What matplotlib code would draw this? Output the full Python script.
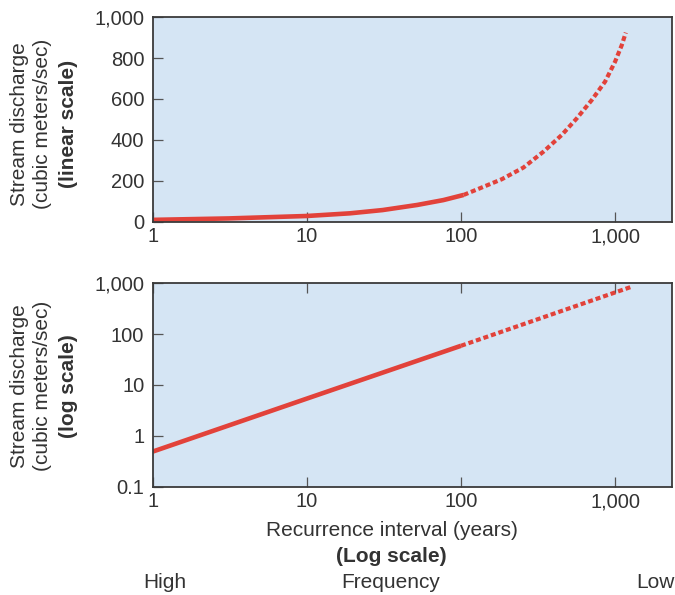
import matplotlib
matplotlib.use("Agg")
import matplotlib.pyplot as plt

plt.rcParams['font.family'] = ['Liberation Sans', 'DejaVu Sans']

# ---- data ----
top_solid_x = [1, 3.1, 10, 19, 31, 52, 77, 104]
top_solid_y = [8, 15, 27, 40, 56, 81, 105, 130]
top_dash_x = [104, 133, 184, 254, 343, 451, 564, 706, 861, 1000, 1105, 1173]
top_dash_y = [130, 163, 207, 264, 342, 424, 505, 595, 685, 783, 864, 925]

bot_solid_x = [1, 10, 100]
bot_solid_y = [0.49, 5.4, 59]
bot_dash_x = [100, 1300]
bot_dash_y = [59, 870]

x_ticks = [1, 10, 100, 1000]
x_tick_labels = ["1", "10", "100", "1,000"]
top_y_ticks = [0, 200, 400, 600, 800, 1000]
top_y_tick_labels = ["0", "200", "400", "600", "800", "1,000"]
bot_y_ticks = [0.1, 1, 10, 100, 1000]
bot_y_tick_labels = ["0.1", "1", "10", "100", "1,000"]

RED = "#E2423A"
BG = "#D5E5F4"
TXT = "#333333"
SPINE = "#3a3a3a"
FS = 14.5
FSL = 15

W, H = 675, 595
fig = plt.figure(figsize=(W / 100, H / 100), dpi=100)

def px_axes(l, t, r, b):
    return fig.add_axes([l / W, 1 - b / H, (r - l) / W, (b - t) / H])

ax1 = px_axes(152.7, 17.3, 672.3, 221.5)
ax2 = px_axes(152.7, 283.3, 672.3, 486.7)

for ax in (ax1, ax2):
    ax.set_facecolor(BG)
    ax.set_xscale('log')
    ax.set_xlim(1, 2350)
    ax.set_xticks(x_ticks)
    ax.set_xticklabels(x_tick_labels)
    ax.minorticks_off()
    for s in ax.spines.values():
        s.set_color(SPINE)
        s.set_linewidth(1.3)
    ax.tick_params(axis='both', direction='in', length=7.5, width=0.9,
                   color='#555555', labelsize=FS, labelcolor=TXT)
    ax.tick_params(axis='y', pad=6)
    ax.tick_params(axis='x', pad=4)

ax1.set_ylim(0, 1000)
ax1.set_yticks(top_y_ticks)
ax1.set_yticklabels(top_y_tick_labels)
ax1.plot(top_solid_x, top_solid_y, color=RED, lw=3.3, solid_capstyle='butt',
         solid_joinstyle='round', clip_on=False)
ax1.plot(top_dash_x, top_dash_y, color=RED, lw=3.0, linestyle=(0, (1.2, 0.7)),
         dash_capstyle='butt', dash_joinstyle='round')

ax2.set_yscale('log')
ax2.set_ylim(0.1, 1000)
ax2.set_yticks(bot_y_ticks)
ax2.set_yticklabels(bot_y_tick_labels)
ax2.minorticks_off()
ax2.tick_params(axis='x', top=True)
ax2.plot(bot_solid_x, bot_solid_y, color=RED, lw=3.3, solid_capstyle='butt')
ax2.plot(bot_dash_x, bot_dash_y, color=RED, lw=3.0, linestyle=(0, (1.2, 0.7)),
         dash_capstyle='butt')

def ylab(cy, third):
    fig.text(20 / W, 1 - cy / H, "Stream discharge", rotation=90, ha='center',
             va='center', fontsize=FSL, color=TXT)
    fig.text(43 / W, 1 - cy / H, "(cubic meters/sec)", rotation=90, ha='center',
             va='center', fontsize=FSL, color=TXT)
    fig.text(69 / W, 1 - cy / H, third, rotation=90, ha='center',
             va='center', fontsize=FSL, color=TXT, fontweight='bold')

ylab(124, "(linear scale)")
ylab(386, "(log scale)")

fig.text(392 / W, 1 - 530 / H, "Recurrence interval (years)", ha='center', va='center',
         fontsize=FSL, color=TXT)
fig.text(391 / W, 1 - 557 / H, "(Log scale)", ha='center', va='center',
         fontsize=FSL, color=TXT, fontweight='bold')
fig.text(165 / W, 1 - 583 / H, "High", ha='center', va='center', fontsize=FSL, color=TXT)
fig.text(391 / W, 1 - 583 / H, "Frequency", ha='center', va='center', fontsize=FSL, color=TXT)
fig.text(675 / W, 1 - 583 / H, "Low", ha='right', va='center', fontsize=FSL, color=TXT)

fig.savefig("out.png", dpi=100)
